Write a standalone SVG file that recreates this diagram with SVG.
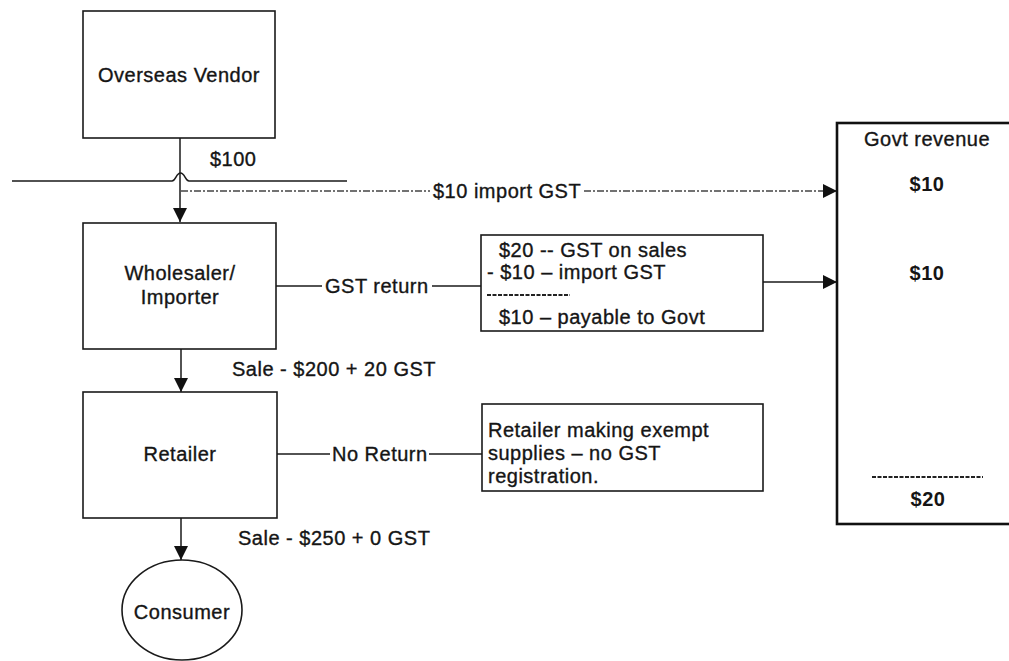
<svg xmlns="http://www.w3.org/2000/svg" width="1009" height="661" viewBox="0 0 1009 661">
  <style>
    .box { fill: #fff; stroke: #1a1a1a; stroke-width: 1.6; }
    .govt { fill: #fff; stroke: #111; stroke-width: 2.6; }
    .line { fill: none; stroke: #1a1a1a; stroke-width: 1.5; }
    .dash { fill: none; stroke: #444; stroke-width: 1.3; stroke-dasharray: 7 2 2 2; }
    .rule { fill: none; stroke: #222; stroke-width: 2; stroke-dasharray: 4 1.5; }
    text { font-family: "Liberation Sans", Arial, sans-serif; font-size: 20px; letter-spacing: 0.5px; fill: #151515; stroke: #151515; stroke-width: 0.35; }
    .mid { text-anchor: middle; }
    .b { font-weight: bold; stroke-width: 0; }
  </style>
  <defs>
    <marker id="arrow" viewBox="0 0 14 14" markerWidth="14" markerHeight="14" refX="14" refY="7" orient="auto" markerUnits="userSpaceOnUse">
      <path d="M0,0 L14,7 L0,14 Z" fill="#111"/>
    </marker>
  </defs>

  <!-- connectors -->
  <g id="connectors">
    <!-- vendor to wholesaler, crossing the border line -->
    <line class="line" x1="180" y1="138" x2="180" y2="222" marker-end="url(#arrow)"/>
    <!-- border line with a hop over the vertical connector -->
    <path class="line" d="M12,181 H172 C176,181 176,173 180.5,173 C185,173 185,181 189,181 H347"/>
    <!-- import GST flow -->
    <line class="dash" x1="181" y1="191" x2="430" y2="191"/>
    <line class="dash" x1="584" y1="191" x2="837" y2="191" marker-end="url(#arrow)"/>
    <!-- GST return -->
    <line class="line" x1="276" y1="286" x2="322" y2="286"/>
    <line class="line" x1="432" y1="286" x2="481" y2="286"/>
    <line class="line" x1="763" y1="282" x2="837" y2="282" marker-end="url(#arrow)"/>
    <!-- wholesaler to retailer -->
    <line class="line" x1="181" y1="349" x2="181" y2="392" marker-end="url(#arrow)"/>
    <!-- No return -->
    <line class="line" x1="277" y1="454" x2="330" y2="454"/>
    <line class="line" x1="429" y1="454" x2="482" y2="454"/>
    <!-- retailer to consumer -->
    <line class="line" x1="181" y1="518" x2="181" y2="560" marker-end="url(#arrow)"/>
  </g>

  <!-- connector labels -->
  <g id="labels">
    <text x="210" y="166">$100</text>
    <text x="433" y="198">$10 import GST</text>
    <text x="325" y="293">GST return</text>
    <text x="232" y="376">Sale - $200 + 20 GST</text>
    <text x="332" y="461">No Return</text>
    <text x="238" y="545">Sale - $250 + 0 GST</text>
  </g>

  <g id="overseas-vendor">
    <rect class="box" x="83" y="11" width="192" height="127"/>
    <text class="mid" x="179" y="82">Overseas Vendor</text>
  </g>

  <g id="wholesaler">
    <rect class="box" x="83" y="223" width="193" height="126"/>
    <text class="mid" x="180" y="280">Wholesaler/</text>
    <text class="mid" x="180" y="304">Importer</text>
  </g>

  <g id="retailer">
    <rect class="box" x="83" y="392" width="194" height="126"/>
    <text class="mid" x="180" y="461">Retailer</text>
  </g>

  <g id="consumer">
    <ellipse class="box" cx="182" cy="610" rx="60" ry="50"/>
    <text class="mid" x="182" y="619">Consumer</text>
  </g>

  <g id="gst-return-box">
    <rect class="box" x="481" y="235" width="282" height="96"/>
    <text x="499" y="257">$20 -- GST on sales</text>
    <text x="487" y="279">- $10 – import GST</text>
    <line class="rule" x1="487" y1="295" x2="570" y2="295"/>
    <text x="499" y="324">$10 – payable to Govt</text>
  </g>

  <g id="exempt-box">
    <rect class="box" x="482" y="404" width="281" height="87"/>
    <text x="488" y="437">Retailer making exempt</text>
    <text x="488" y="460">supplies – no GST</text>
    <text x="488" y="483">registration.</text>
  </g>

  <g id="govt-revenue">
    <rect class="govt" x="837" y="123" width="180" height="401"/>
    <text class="mid" x="927" y="146">Govt revenue</text>
    <text class="mid b" x="927" y="191">$10</text>
    <text class="mid b" x="927" y="280">$10</text>
    <line class="rule" x1="872" y1="477" x2="983" y2="477"/>
    <text class="mid b" x="928" y="506">$20</text>
  </g>
</svg>
